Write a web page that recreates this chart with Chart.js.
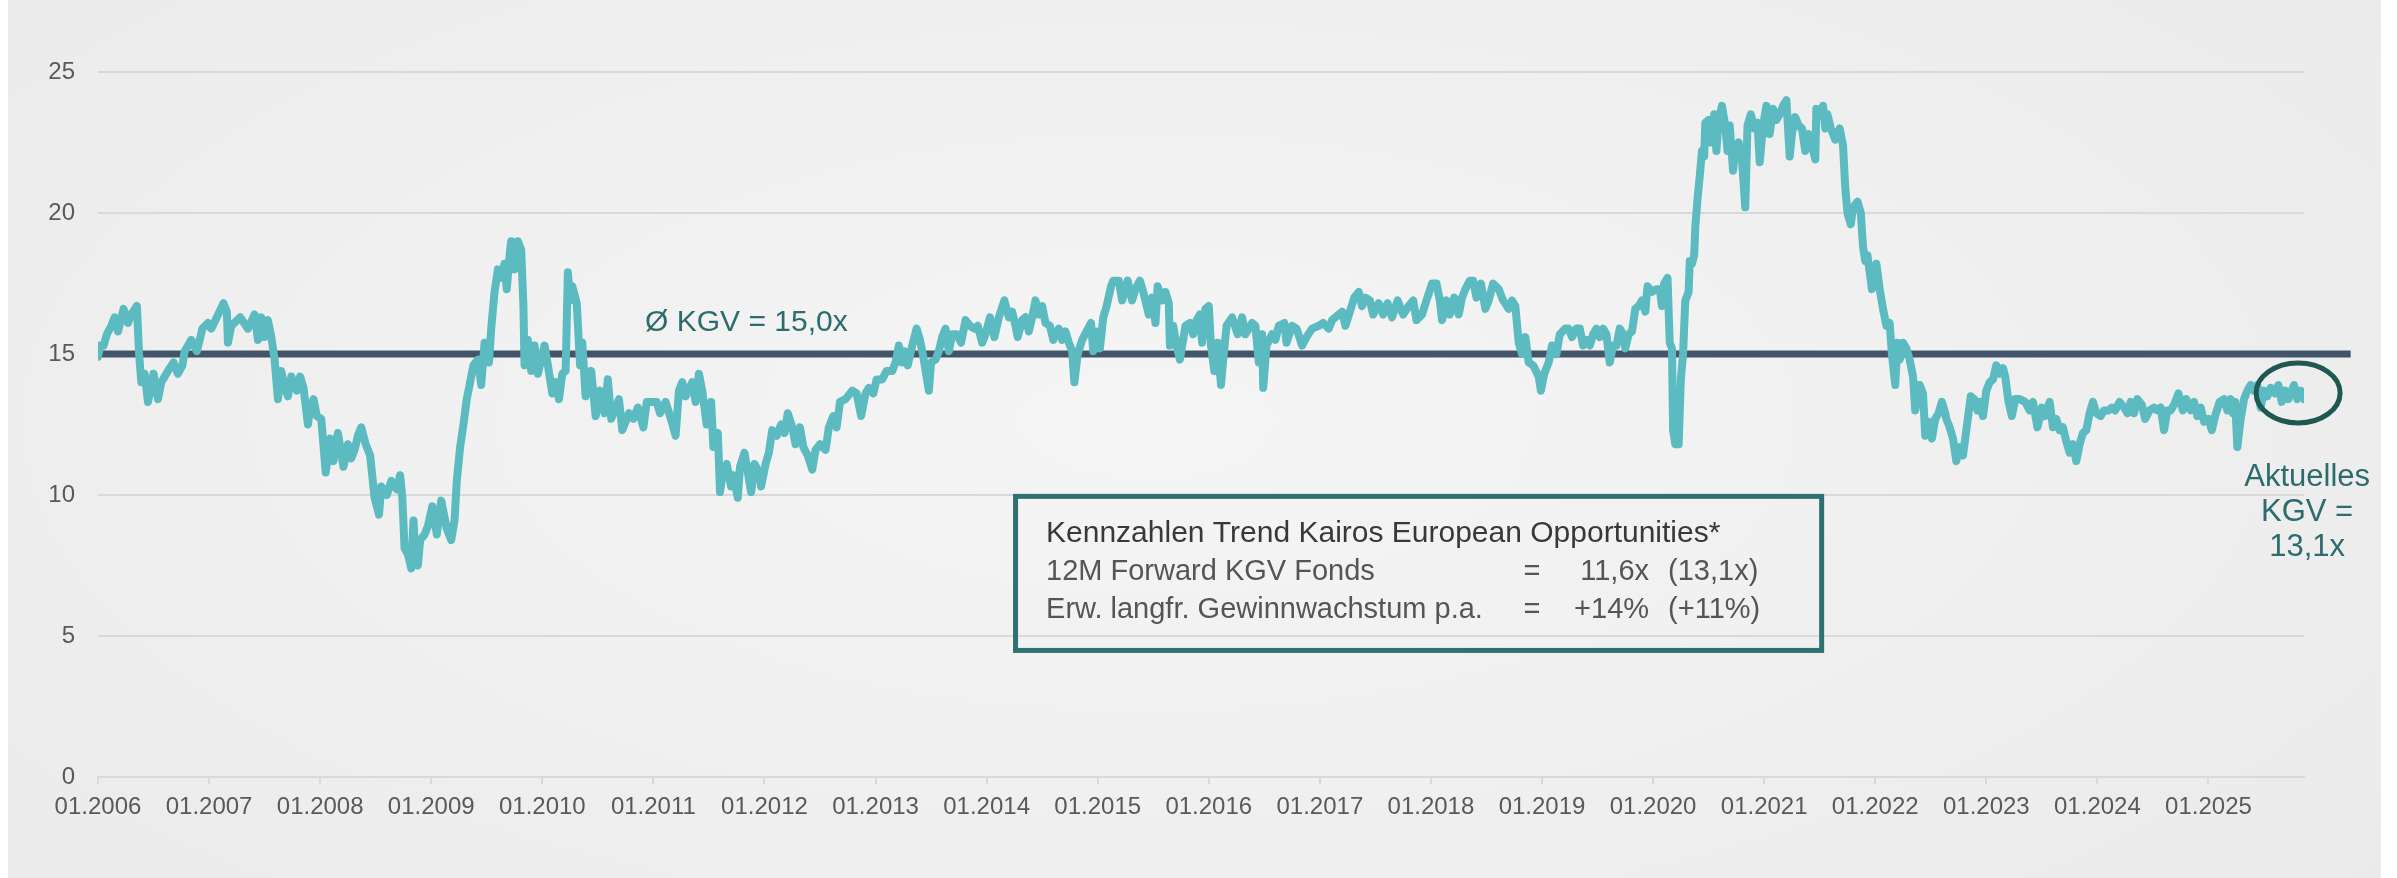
<!DOCTYPE html>
<html lang="de">
<head>
<meta charset="utf-8">
<title>KGV Trend Kairos European Opportunities</title>
<script src="https://cdn.jsdelivr.net/npm/chart.js@4.4.1/dist/chart.umd.min.js"></script>
<style>
    html, body { margin: 0; padding: 0; background: #ffffff; }
    body { width: 2397px; height: 878px; position: relative; overflow: hidden; }
    #panel {
        position: absolute; left: 8px; top: 0; width: 2373px; height: 878px;
        background: radial-gradient(ellipse 75% 90% at 48% 48%, #f5f5f5 0%, #f0f0f0 45%, #e9e9e9 100%);
    }
    #chart { position: absolute; left: 0; top: 0; }
</style>
</head>
<body>
<div id="panel"></div>
<canvas id="chart" width="2397" height="878"></canvas>
<script>
// Datum als Dezimaljahr, Wert = 12M Forward KGV
var dates = [
    2006.00, 2006.02, 2006.05, 2006.08, 2006.12, 2006.15, 2006.18, 2006.23, 2006.27, 2006.30, 2006.35, 2006.37, 2006.39, 2006.42, 2006.45, 2006.50, 2006.54, 2006.57, 2006.63, 2006.68, 2006.72, 2006.76, 2006.78, 2006.84, 2006.89, 2006.94, 2006.99,
    2007.02, 2007.07, 2007.13, 2007.16, 2007.17, 2007.20, 2007.28, 2007.35, 2007.41, 2007.44, 2007.47, 2007.50, 2007.53, 2007.56, 2007.59, 2007.62, 2007.65, 2007.68, 2007.71, 2007.74, 2007.79, 2007.82, 2007.85, 2007.89, 2007.91, 2007.94, 2007.97,
    2008.01, 2008.05, 2008.09, 2008.12, 2008.16, 2008.21, 2008.25, 2008.28, 2008.31, 2008.34, 2008.37, 2008.41, 2008.45, 2008.49, 2008.53, 2008.55, 2008.60, 2008.64, 2008.69, 2008.72, 2008.74, 2008.76, 2008.79, 2008.82, 2008.84, 2008.86, 2008.88, 2008.90, 2008.94, 2008.97,
    2009.01, 2009.05, 2009.09, 2009.14, 2009.18, 2009.21, 2009.23, 2009.26, 2009.29, 2009.32, 2009.38, 2009.42, 2009.45, 2009.48, 2009.52, 2009.54, 2009.57, 2009.60, 2009.63, 2009.66, 2009.68, 2009.71, 2009.72, 2009.75, 2009.78, 2009.81, 2009.83, 2009.84, 2009.87, 2009.90, 2009.93, 2009.96,
    2010.02, 2010.05, 2010.09, 2010.12, 2010.15, 2010.18, 2010.21, 2010.23, 2010.25, 2010.27, 2010.31, 2010.34, 2010.36, 2010.39, 2010.44, 2010.48, 2010.52, 2010.56, 2010.59, 2010.62, 2010.69, 2010.72, 2010.78, 2010.82, 2010.86, 2010.91, 2010.94,
    2011.03, 2011.06, 2011.11, 2011.15, 2011.20, 2011.23, 2011.26, 2011.29, 2011.35, 2011.38, 2011.41, 2011.44, 2011.48, 2011.52, 2011.54, 2011.58, 2011.60, 2011.63, 2011.66, 2011.70, 2011.72, 2011.76, 2011.78, 2011.82, 2011.85, 2011.88, 2011.91, 2011.95, 2011.97,
    2012.01, 2012.04, 2012.07, 2012.11, 2012.15, 2012.18, 2012.21, 2012.25, 2012.28, 2012.32, 2012.35, 2012.39, 2012.43, 2012.46, 2012.50, 2012.55, 2012.58, 2012.62, 2012.65, 2012.68, 2012.73, 2012.79, 2012.83, 2012.87, 2012.91, 2012.94, 2012.98,
    2013.01, 2013.06, 2013.10, 2013.15, 2013.18, 2013.21, 2013.24, 2013.26, 2013.29, 2013.33, 2013.37, 2013.40, 2013.43, 2013.48, 2013.50, 2013.54, 2013.57, 2013.60, 2013.63, 2013.66, 2013.69, 2013.73, 2013.77, 2013.81, 2013.85, 2013.89, 2013.92, 2013.96, 2013.99,
    2014.03, 2014.07, 2014.11, 2014.16, 2014.20, 2014.23, 2014.26, 2014.28, 2014.32, 2014.35, 2014.38, 2014.41, 2014.44, 2014.47, 2014.50, 2014.53, 2014.57, 2014.60, 2014.65, 2014.68, 2014.71, 2014.74, 2014.77, 2014.79, 2014.82, 2014.86, 2014.90, 2014.94, 2014.96, 2014.99,
    2015.02, 2015.05, 2015.08, 2015.12, 2015.14, 2015.19, 2015.22, 2015.27, 2015.31, 2015.34, 2015.38, 2015.41, 2015.46, 2015.49, 2015.52, 2015.54, 2015.58, 2015.61, 2015.64, 2015.65, 2015.68, 2015.71, 2015.74, 2015.79, 2015.83, 2015.86, 2015.89, 2015.92, 2015.94, 2015.97, 2016.00,
    2016.02, 2016.05, 2016.08, 2016.11, 2016.13, 2016.16, 2016.21, 2016.26, 2016.30, 2016.33, 2016.39, 2016.42, 2016.45, 2016.48, 2016.49, 2016.52, 2016.57, 2016.60, 2016.63, 2016.68, 2016.70, 2016.75, 2016.79, 2016.84, 2016.88, 2016.93, 2016.99,
    2017.03, 2017.08, 2017.11, 2017.17, 2017.20, 2017.23, 2017.27, 2017.31, 2017.35, 2017.38, 2017.41, 2017.45, 2017.48, 2017.53, 2017.57, 2017.61, 2017.65, 2017.70, 2017.75, 2017.80, 2017.84, 2017.87, 2017.92, 2017.96,
    2018.01, 2018.05, 2018.08, 2018.10, 2018.14, 2018.17, 2018.21, 2018.25, 2018.28, 2018.31, 2018.35, 2018.38, 2018.41, 2018.45, 2018.49, 2018.52, 2018.56, 2018.61, 2018.65, 2018.70, 2018.73, 2018.76, 2018.79, 2018.82, 2018.85, 2018.88, 2018.92, 2018.97, 2018.99,
    2019.02, 2019.06, 2019.09, 2019.13, 2019.16, 2019.21, 2019.24, 2019.27, 2019.31, 2019.34, 2019.37, 2019.40, 2019.43, 2019.46, 2019.49, 2019.52, 2019.55, 2019.58, 2019.61, 2019.64, 2019.67, 2019.70, 2019.73, 2019.75, 2019.78, 2019.81, 2019.84, 2019.87, 2019.90, 2019.93, 2019.95, 2019.99,
    2020.03, 2020.06, 2020.08, 2020.10, 2020.13, 2020.15, 2020.17, 2020.18, 2020.20, 2020.23, 2020.25, 2020.27, 2020.29, 2020.32, 2020.33, 2020.35, 2020.37, 2020.38, 2020.40, 2020.42, 2020.44, 2020.46, 2020.47, 2020.50, 2020.52, 2020.55, 2020.57, 2020.59, 2020.62, 2020.65, 2020.67, 2020.69, 2020.72, 2020.74, 2020.77, 2020.80, 2020.83, 2020.85, 2020.88, 2020.91, 2020.94, 2020.96, 2020.99,
    2021.02, 2021.05, 2021.08, 2021.11, 2021.14, 2021.17, 2021.20, 2021.23, 2021.25, 2021.28, 2021.31, 2021.34, 2021.37, 2021.40, 2021.43, 2021.46, 2021.47, 2021.50, 2021.53, 2021.55, 2021.57, 2021.60, 2021.64, 2021.68, 2021.71, 2021.73, 2021.75, 2021.78, 2021.80, 2021.84, 2021.87, 2021.89, 2021.91, 2021.93, 2021.97,
    2022.01, 2022.04, 2022.07, 2022.10, 2022.13, 2022.15, 2022.18, 2022.20, 2022.22, 2022.25, 2022.28, 2022.31, 2022.34, 2022.36, 2022.40, 2022.43, 2022.45, 2022.48, 2022.51, 2022.54, 2022.57, 2022.60, 2022.63, 2022.64, 2022.67, 2022.70, 2022.73, 2022.76, 2022.79, 2022.82, 2022.86, 2022.89, 2022.92, 2022.94, 2022.97,
    2023.00, 2023.03, 2023.06, 2023.09, 2023.12, 2023.15, 2023.17, 2023.20, 2023.23, 2023.26, 2023.30, 2023.35, 2023.39, 2023.42, 2023.46, 2023.50, 2023.53, 2023.57, 2023.60, 2023.63, 2023.66, 2023.69, 2023.72, 2023.75, 2023.78, 2023.81, 2023.84, 2023.87, 2023.90, 2023.93, 2023.96, 2023.99,
    2024.03, 2024.06, 2024.10, 2024.13, 2024.16, 2024.20, 2024.24, 2024.27, 2024.30, 2024.33, 2024.36, 2024.40, 2024.43, 2024.47, 2024.51, 2024.54, 2024.57, 2024.60, 2024.63, 2024.66, 2024.69, 2024.73, 2024.77, 2024.80, 2024.84, 2024.87, 2024.90, 2024.93, 2024.96,
    2025.00, 2025.03, 2025.06, 2025.10, 2025.14, 2025.17, 2025.20, 2025.22, 2025.24, 2025.26, 2025.29, 2025.32, 2025.35, 2025.38, 2025.41, 2025.44, 2025.47, 2025.50, 2025.53, 2025.56, 2025.60, 2025.63, 2025.66, 2025.69, 2025.72, 2025.77, 2025.80, 2025.83, 2025.86
];

var kgv = [
    14.9, 15.3, 15.3, 15.7, 16.0, 16.3, 15.8, 16.6, 16.1, 16.4, 16.7, 15.0, 14.0, 14.3, 13.3, 14.3, 13.4, 14.0, 14.4, 14.7, 14.3, 14.6, 15.1, 15.5, 15.1, 15.9, 16.1,
    15.9, 16.3, 16.8, 16.5, 15.4, 16.0, 16.3, 15.9, 16.4, 15.5, 16.3, 15.6, 16.2, 15.6, 14.8, 13.4, 14.4, 13.8, 13.5, 14.2, 13.7, 14.2, 13.8, 12.5, 13.1, 13.4, 12.8,
    12.7, 10.8, 12.0, 11.2, 12.2, 11.0, 11.8, 11.3, 11.6, 12.1, 12.4, 11.8, 11.4, 9.9, 9.3, 10.3, 10.0, 10.5, 10.2, 10.7, 9.9, 8.1, 7.9, 7.4, 9.1, 7.7, 7.5, 8.4, 8.6, 8.9,
    9.6, 8.6, 9.8, 8.8, 8.4, 9.1, 10.5, 11.7, 12.5, 13.4, 14.6, 14.8, 13.9, 15.4, 14.7, 15.9, 17.2, 18.0, 17.7, 18.2, 17.3, 18.7, 19.0, 18.0, 19.0, 18.7, 16.7, 14.6, 15.5, 14.4, 15.3, 14.3,
    15.3, 14.6, 13.6, 14.0, 13.4, 14.3, 14.4, 17.9, 16.9, 17.4, 16.8, 14.6, 15.4, 13.5, 14.4, 12.8, 13.7, 12.9, 14.1, 12.7, 13.4, 12.3, 12.9, 12.7, 13.1, 12.4, 13.3,
    13.3, 12.9, 13.3, 12.8, 12.1, 13.7, 14.0, 13.5, 14.0, 13.3, 14.3, 13.7, 12.5, 13.3, 11.7, 12.2, 10.1, 10.9, 11.1, 10.3, 10.7, 9.9, 11.0, 11.5, 10.8, 10.1, 11.1, 10.8, 10.3,
    11.1, 11.5, 12.3, 12.1, 12.5, 12.2, 12.9, 12.4, 11.8, 12.4, 11.7, 11.4, 10.9, 11.6, 11.8, 11.6, 12.4, 12.8, 12.4, 13.3, 13.4, 13.7, 13.6, 12.8, 13.6, 13.8, 13.6,
    14.1, 14.1, 14.4, 14.4, 14.7, 15.3, 14.7, 15.1, 14.6, 15.3, 15.9, 15.5, 14.9, 13.7, 14.7, 14.8, 15.1, 15.6, 15.9, 15.1, 15.7, 15.7, 15.4, 16.2, 16.0, 15.9, 16.0, 15.4, 15.7,
    16.3, 15.6, 16.3, 16.9, 16.3, 16.5, 16.0, 15.6, 16.2, 16.3, 15.8, 16.3, 16.9, 16.4, 16.7, 16.1, 16.0, 15.5, 15.9, 15.5, 15.8, 15.4, 15.1, 14.0, 15.0, 15.5, 15.8, 16.1, 15.1, 15.8,
    15.2, 16.3, 16.7, 17.4, 17.6, 17.6, 16.9, 17.6, 16.9, 17.3, 17.6, 17.2, 16.4, 17.0, 16.1, 17.4, 16.9, 17.2, 16.8, 15.3, 16.0, 15.3, 14.8, 16.0, 16.1, 15.7, 16.2, 16.4, 15.4, 16.6, 16.7,
    15.3, 14.4, 15.4, 13.9, 14.8, 16.0, 16.3, 15.7, 16.3, 15.7, 16.1, 16.0, 14.7, 15.7, 13.8, 15.3, 15.7, 15.5, 16.0, 16.1, 15.4, 16.0, 15.9, 15.3, 15.6, 15.9, 16.0,
    16.1, 15.9, 16.2, 16.4, 16.5, 16.0, 16.5, 17.0, 17.2, 16.7, 17.0, 16.9, 16.4, 16.8, 16.4, 16.8, 16.3, 16.9, 16.4, 16.7, 16.9, 16.2, 16.4, 16.9,
    17.5, 17.5, 16.9, 16.2, 16.9, 16.4, 17.0, 16.4, 17.0, 17.3, 17.6, 17.6, 17.0, 17.5, 16.6, 16.9, 17.5, 17.3, 16.9, 16.6, 16.9, 16.7, 15.4, 15.0, 15.6, 14.7, 14.6, 14.2, 13.7,
    14.3, 14.7, 15.3, 15.0, 15.7, 15.9, 15.9, 15.6, 15.9, 15.9, 15.3, 15.5, 15.3, 15.7, 15.9, 15.6, 15.9, 15.7, 14.7, 15.3, 15.3, 15.9, 15.7, 15.2, 15.7, 15.8, 16.6, 16.7, 16.9, 16.5, 17.4, 17.2,
    17.3, 17.3, 16.7, 17.5, 17.7, 15.4, 15.2, 12.3, 11.8, 11.8, 14.1, 15.0, 16.9, 17.2, 18.3, 18.2, 18.5, 19.5, 20.5, 21.3, 22.2, 22.0, 23.2, 23.3, 22.5, 23.5, 22.2, 23.3, 23.8, 23.1, 22.2, 23.1, 21.5, 22.3, 22.5, 21.9, 20.2, 23.1, 23.5, 23.0, 23.2, 21.8, 23.1,
    23.8, 22.8, 23.7, 23.3, 23.5, 23.8, 24.0, 22.0, 22.8, 23.4, 23.1, 23.0, 22.2, 22.8, 22.4, 21.9, 23.7, 23.5, 23.8, 23.0, 23.5, 23.0, 22.6, 23.0, 22.4, 20.9, 20.0, 19.6, 20.2, 20.4, 20.0, 18.8, 18.3, 18.5, 17.3,
    18.2, 17.3, 16.6, 16.0, 16.1, 15.0, 13.9, 15.4, 14.8, 15.4, 15.2, 14.8, 14.2, 13.0, 13.9, 13.6, 12.1, 12.6, 12.0, 12.7, 12.9, 13.3, 12.9, 12.7, 12.4, 12.0, 11.2, 11.7, 11.4, 12.3, 13.5, 13.4, 13.0, 13.3, 12.8,
    13.7, 14.0, 14.1, 14.6, 14.3, 14.5, 14.2, 13.3, 12.8, 13.4, 13.4, 13.3, 13.0, 13.3, 12.4, 13.1, 12.8, 13.3, 12.4, 12.7, 12.3, 12.4, 11.9, 11.5, 11.8, 11.2, 11.8, 12.2, 12.3, 12.9, 13.3, 12.9,
    12.8, 13.0, 13.0, 13.1, 13.0, 13.3, 13.1, 12.9, 13.3, 12.9, 13.4, 13.2, 12.7, 13.0, 13.1, 13.0, 13.1, 12.3, 13.0, 13.0, 13.2, 13.6, 13.0, 13.4, 13.0, 13.3, 12.8, 13.1, 12.6,
    12.7, 12.3, 12.8, 13.3, 13.4, 13.0, 13.4, 12.9, 13.3, 11.7, 12.7, 13.4, 13.7, 13.9, 13.7, 13.9, 13.1, 13.7, 13.5, 13.8, 13.6, 13.9, 13.3, 13.7, 13.4, 13.9, 13.4, 13.7, 13.4
];

// Durchschnitts-KGV (Linie reicht etwas über die Achse hinaus)
var meanKgv = 15.0;
var meanFrom = 2006.03;
var meanTo = 2026.28;

// Achsen
var yearTicks = [2006, 2007, 2008, 2009, 2010, 2011, 2012, 2013, 2014, 2015, 2016, 2017, 2018, 2019, 2020, 2021, 2022, 2023, 2024, 2025];
var yTicks = [0, 5, 10, 15, 20, 25];

// Texte
var meanLabel = 'Ø KGV = 15,0x';
var boxTitle = 'Kennzahlen Trend Kairos European Opportunities*';
var boxRows = [
    ['12M Forward KGV Fonds', '=', '11,6x', '(13,1x)'],
    ['Erw. langfr. Gewinnwachstum p.a.', '=', '+14%', '(+11%)']
];
var currentLabel = ['Aktuelles', 'KGV =', '13,1x'];

var FONT = "'Liberation Sans', Arial, sans-serif";

var annotations = {
    id: 'annotations',
    afterDraw: function (chart) {
        var ctx = chart.ctx;
        var x = chart.scales.x;
        var y = chart.scales.y;
        ctx.save();

        // Ø KGV Beschriftung
        ctx.fillStyle = '#2c6c6d';
        ctx.font = '30px ' + FONT;
        ctx.textAlign = 'left';
        ctx.textBaseline = 'alphabetic';
        ctx.fillText(meanLabel, x.getPixelForValue(2010.925), y.getPixelForValue(15.82));

        // Kennzahlen-Box
        var bl = x.getPixelForValue(2014.238);
        var br = x.getPixelForValue(2021.54);
        var bt = y.getPixelForValue(10.04);
        var bb = y.getPixelForValue(4.40);
        ctx.strokeStyle = '#2f7070';
        ctx.lineWidth = 5;
        ctx.strokeRect(bl + 2.5, bt + 2.5, br - bl - 5, bb - bt - 5);

        ctx.fillStyle = '#383838';
        ctx.font = '30px ' + FONT;
        ctx.fillText(boxTitle, bl + 33, bt + 48);

        ctx.fillStyle = '#555555';
        ctx.font = '29px ' + FONT;
        boxRows.forEach(function (row, i) {
            var by = bt + 86 + i * 38;
            ctx.textAlign = 'left';
            ctx.fillText(row[0], bl + 33, by);
            ctx.textAlign = 'center';
            ctx.fillText(row[1], bl + 519, by);
            ctx.textAlign = 'right';
            ctx.fillText(row[2], bl + 636, by);
            ctx.textAlign = 'left';
            ctx.fillText(row[3], bl + 655, by);
        });

        // Kreis um aktuellen Wert
        ctx.strokeStyle = '#1f5753';
        ctx.lineWidth = 5;
        ctx.beginPath();
        ctx.ellipse(x.getPixelForValue(2025.807), y.getPixelForValue(13.62), 42, 30, 0, 0, Math.PI * 2);
        ctx.stroke();

        // Aktuelles KGV
        ctx.fillStyle = '#2c6c6d';
        ctx.font = '31px ' + FONT;
        ctx.textAlign = 'center';
        var cx = x.getPixelForValue(2025.888);
        var cy = y.getPixelForValue(10.32);
        currentLabel.forEach(function (t, i) {
            ctx.fillText(t, cx, cy + i * 35);
        });

        ctx.restore();
    }
};

var points = dates.map(function (d, i) { return { x: d, y: kgv[i] }; });

var ctx = document.getElementById('chart').getContext('2d');
var myChart = new Chart(ctx, {
    type: 'line',
    data: {
        datasets: [{
            label: 'KGV',
            data: points,
            borderColor: '#5bbbc1',
            borderWidth: 8,
            borderJoinStyle: 'round',
            borderCapStyle: 'round',
            pointRadius: 0,
            tension: 0
        }, {
            label: 'Ø KGV',
            data: [{ x: meanFrom, y: meanKgv }, { x: meanTo, y: meanKgv }],
            borderColor: '#435569',
            borderWidth: 7,
            pointRadius: 0,
            clip: false
        }]
    },
    options: {
        responsive: false,
        animation: false,
        devicePixelRatio: 1,
        layout: {
            padding: { left: 0, right: 93, top: 72, bottom: 0 }
        },
        plugins: {
            legend: { display: false },
            tooltip: { enabled: false }
        },
        scales: {
            x: {
                type: 'linear',
                min: 2006,
                max: 2025.86,
                afterBuildTicks: function (scale) {
                    scale.ticks = yearTicks.map(function (v) { return { value: v }; });
                },
                afterFit: function (scale) { scale.height = 101; },
                ticks: {
                    autoSkip: false,
                    maxRotation: 0,
                    padding: 9,
                    color: '#595959',
                    font: { family: FONT, size: 24 },
                    callback: function (value) { return '01.' + value; }
                },
                grid: {
                    drawOnChartArea: false,
                    color: '#d9d9d9',
                    lineWidth: 2,
                    tickLength: 7
                },
                border: { color: '#d9d9d9', width: 2 }
            },
            y: {
                min: 0,
                max: 25,
                afterBuildTicks: function (scale) {
                    scale.ticks = yTicks.map(function (v) { return { value: v }; });
                },
                afterFit: function (scale) { scale.width = 98; },
                ticks: {
                    padding: 23,
                    color: '#595959',
                    font: { family: FONT, size: 24 }
                },
                grid: {
                    color: '#d9d9d9',
                    lineWidth: 2,
                    drawTicks: false
                },
                border: { display: false }
            }
        }
    },
    plugins: [annotations]
});
</script>
</body>
</html>
